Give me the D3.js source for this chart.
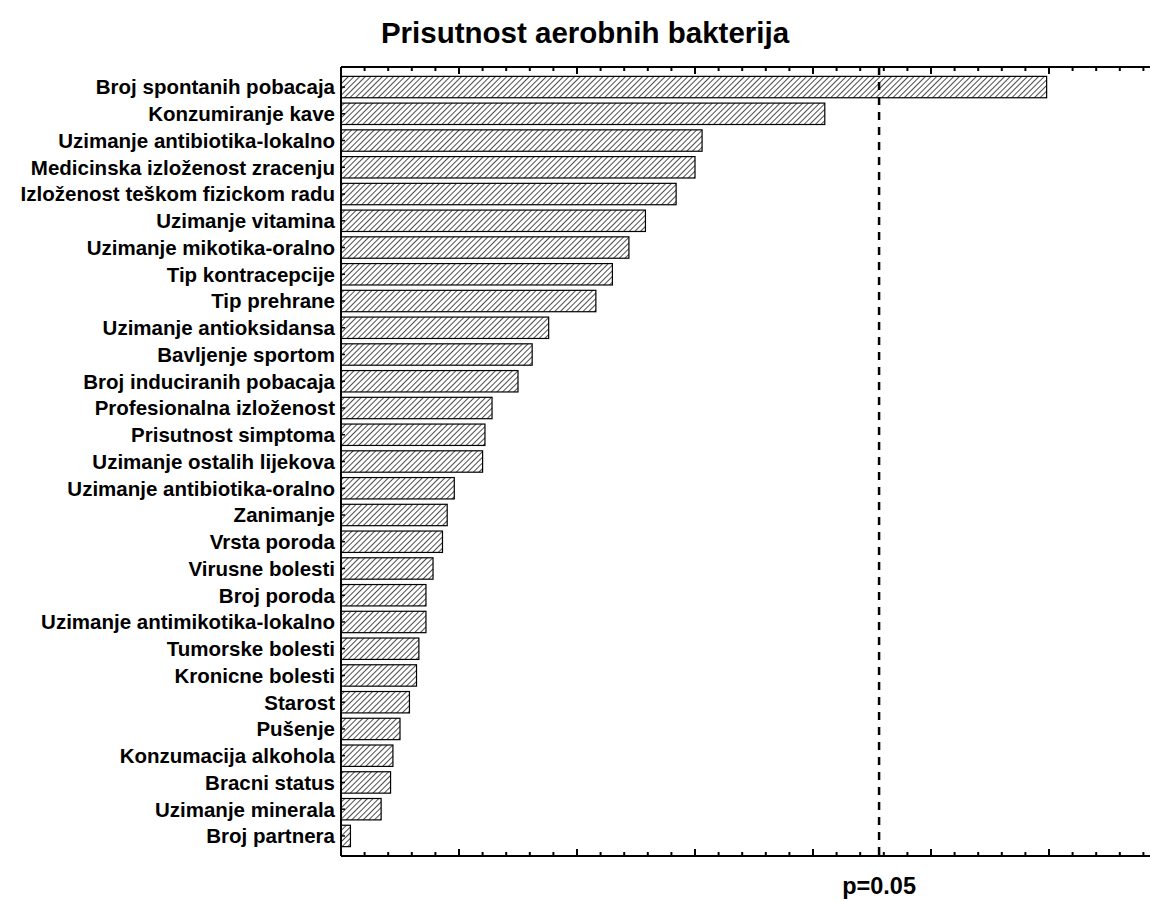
<!DOCTYPE html>
<html>
  <head>
    <meta charset='utf-8'>
    <title>Prisutnost aerobnih bakterija</title>
    <script src='https://d3js.org/d3.v7.min.js'></script>
    <style>
      body { margin: 0; background: #fff; }
      svg { display: block; font-family: 'Liberation Sans', Arial, sans-serif; }
      .label { font-size: 20.5px; font-weight: bold; fill: #000; }
      .plabel { font-size: 23.5px; font-weight: bold; fill: #000; }
      .title { font-size: 29.5px; font-weight: bold; fill: #000; }
      .axis path, .axis line { stroke: #000; }
    </style>
  </head>
  <body>
  <script>
    // categories, ordered from largest effect down
    var factors = [
      'Broj spontanih pobacaja', 'Konzumiranje kave', 'Uzimanje antibiotika-lokalno',
      'Medicinska izloženost zracenju', 'Izloženost teškom fizickom radu', 'Uzimanje vitamina',
      'Uzimanje mikotika-oralno', 'Tip kontracepcije', 'Tip prehrane', 'Uzimanje antioksidansa',
      'Bavljenje sportom', 'Broj induciranih pobacaja', 'Profesionalna izloženost',
      'Prisutnost simptoma', 'Uzimanje ostalih lijekova', 'Uzimanje antibiotika-oralno',
      'Zanimanje', 'Vrsta poroda', 'Virusne bolesti', 'Broj poroda',
      'Uzimanje antimikotika-lokalno', 'Tumorske bolesti', 'Kronicne bolesti', 'Starost',
      'Pušenje', 'Konzumacija alkohola', 'Bracni status', 'Uzimanje minerala', 'Broj partnera'
    ];
    // standardized effect estimates
    var effects = [
      2.99, 2.05, 1.53, 1.50, 1.42, 1.29, 1.22, 1.15, 1.08, 0.88,
      0.81, 0.75, 0.64, 0.61, 0.60, 0.48, 0.45, 0.43, 0.39, 0.36,
      0.36, 0.33, 0.32, 0.29, 0.25, 0.22, 0.21, 0.17, 0.04
    ];
    var pCritical = 2.28;
    var pLabel = 'p=0.05';
    var titleText = 'Prisutnost aerobnih bakterija';

    var width = 1150, height = 901;
    var margin = {top: 67, right: 0, bottom: 45, left: 341};

    var svg = d3.select('body').append('svg')
      .attr('width', width)
      .attr('height', height);

    // hatch fill
    var pat = svg.append('defs').append('pattern')
      .attr('id', 'hatch')
      .attr('patternUnits', 'userSpaceOnUse')
      .attr('width', 4).attr('height', 4)
      .attr('patternTransform', 'rotate(45)');
    pat.append('rect').attr('width', 4).attr('height', 4).attr('fill', '#fff');
    pat.append('line')
      .attr('x1', 0).attr('y1', 0).attr('x2', 0).attr('y2', 4)
      .attr('stroke', '#000').attr('stroke-width', 1.4);

    var x = d3.scaleLinear()
      .domain([0, (width - margin.left - margin.right) / 236])
      .range([margin.left, width - margin.right]);

    var y = d3.scaleBand()
      .domain(factors)
      .range([margin.top, height - margin.bottom])
      .paddingInner(0.2)
      .paddingOuter(0.35);

    var data = factors.map(function(f, i) { return {name: f, value: effects[i]}; });

    svg.append('text')
      .attr('class', 'title')
      .attr('x', 585).attr('y', 43)
      .attr('text-anchor', 'middle')
      .text(titleText);

    svg.selectAll('.bar')
      .data(data)
      .enter().append('rect')
      .attr('class', 'bar')
      .attr('x', x(0))
      .attr('y', function(d) { return y(d.name); })
      .attr('width', function(d) { return x(d.value) - x(0); })
      .attr('height', y.bandwidth())
      .attr('fill', 'url(#hatch)')
      .attr('stroke', '#000')
      .attr('stroke-width', 1.2);

    svg.selectAll('.label')
      .data(data)
      .enter().append('text')
      .attr('class', 'label')
      .attr('x', margin.left - 6)
      .attr('y', function(d) { return y(d.name) + y.bandwidth() / 2; })
      .attr('dy', '0.36em')
      .attr('text-anchor', 'end')
      .text(function(d) { return d.name; });

    // top and bottom axes, ticks pointing inward, no labels
    var majors = d3.range(0, x.domain()[1], 0.5);
    var minors = d3.range(0, x.domain()[1], 0.1).filter(function(v) {
      return Math.abs(v * 2 - Math.round(v * 2)) > 1e-6;
    });
    var yTop = margin.top, yBot = height - margin.bottom;

    function hAxis(yPos, dir) {
      var g = svg.append('g').attr('class', 'axis');
      g.append('line').attr('x1', margin.left).attr('x2', width)
        .attr('y1', yPos).attr('y2', yPos).attr('stroke-width', 2);
      g.selectAll('.maj').data(majors).enter().append('line')
        .attr('x1', x).attr('x2', x)
        .attr('y1', yPos).attr('y2', yPos + dir * 7).attr('stroke-width', 2);
      g.selectAll('.min').data(minors).enter().append('line')
        .attr('x1', x).attr('x2', x)
        .attr('y1', yPos).attr('y2', yPos + dir * 4).attr('stroke-width', 2);
    }
    hAxis(yTop, 1);
    hAxis(yBot, -1);

    // left axis with small inward ticks
    var gl = svg.append('g').attr('class', 'axis');
    gl.append('line').attr('x1', margin.left).attr('x2', margin.left)
      .attr('y1', yTop).attr('y2', yBot).attr('stroke-width', 2);
    gl.selectAll('.lt').data(factors).enter().append('line')
      .attr('x1', margin.left).attr('x2', margin.left + 4)
      .attr('y1', function(d) { return y(d) + y.bandwidth() / 2; })
      .attr('y2', function(d) { return y(d) + y.bandwidth() / 2; })
      .attr('stroke-width', 1.5);

    // significance line
    svg.append('line')
      .attr('x1', x(pCritical)).attr('x2', x(pCritical))
      .attr('y1', yTop).attr('y2', yBot)
      .attr('stroke', '#000').attr('stroke-width', 2.5)
      .attr('stroke-dasharray', '8,7');

    svg.append('text')
      .attr('class', 'plabel')
      .attr('x', x(pCritical)).attr('y', yBot + 38)
      .attr('text-anchor', 'middle')
      .text(pLabel);
  </script>
  </body>
</html>
